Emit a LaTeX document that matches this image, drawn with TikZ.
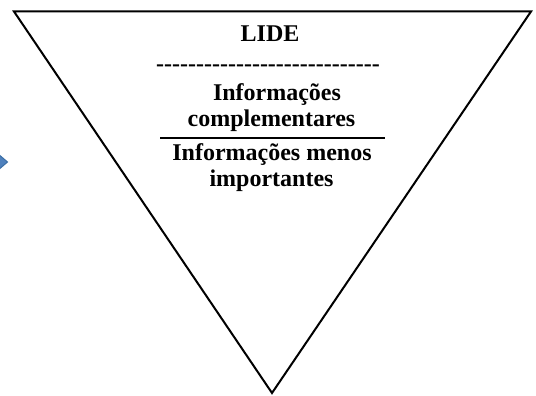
\documentclass[tikz,border=0pt]{standalone}
\usepackage{fontspec}
\setmainfont{Liberation Serif}
\definecolor{arrowfill}{HTML}{4F81BD}
\definecolor{arrowedge}{HTML}{3A6EA5}
\newcommand\hyrun[1]{\foreach \i in {1,...,#1}{-\kern0pt}}
\begin{document}
\begin{tikzpicture}[x=1pt,y=-1pt,
  txt/.style={font=\fontsize{24}{26}\selectfont\bfseries, inner sep=0pt, anchor=base},
  funnel/.style={draw=black, line width=2pt, line join=miter},
  bluearrow/.style={fill=arrowfill, draw=arrowedge, line width=1pt}]
\useasboundingbox (0,0) rectangle (536,396);
\clip (0,0) rectangle (536,396);
\fill[white] (0,0) rectangle (536,396);
\filldraw[bluearrow] (-3,153) -- (7.5,162) -- (-3,171) -- cycle;
\draw[funnel] (14,11.5) -- (531,11.5) -- (272,393) -- cycle;
\node[txt] (lide) at (270,42) {LIDE};
\node[txt] (dashes) at (268,72) {\hyrun{28}};
\node[txt] (info1) at (277,100) {Informações};
\node[txt] (compl) at (271.5,126) {complementares};
\coordinate (sepL) at (160,137.5);
\coordinate (sepR) at (385,137.5);
\draw[line width=2pt] (sepL) -- (sepR);
\node[txt] (info2) at (272,160) {Informações menos};
\node[txt] (impo) at (271.5,186.5) {importantes};
\end{tikzpicture}
\end{document}
